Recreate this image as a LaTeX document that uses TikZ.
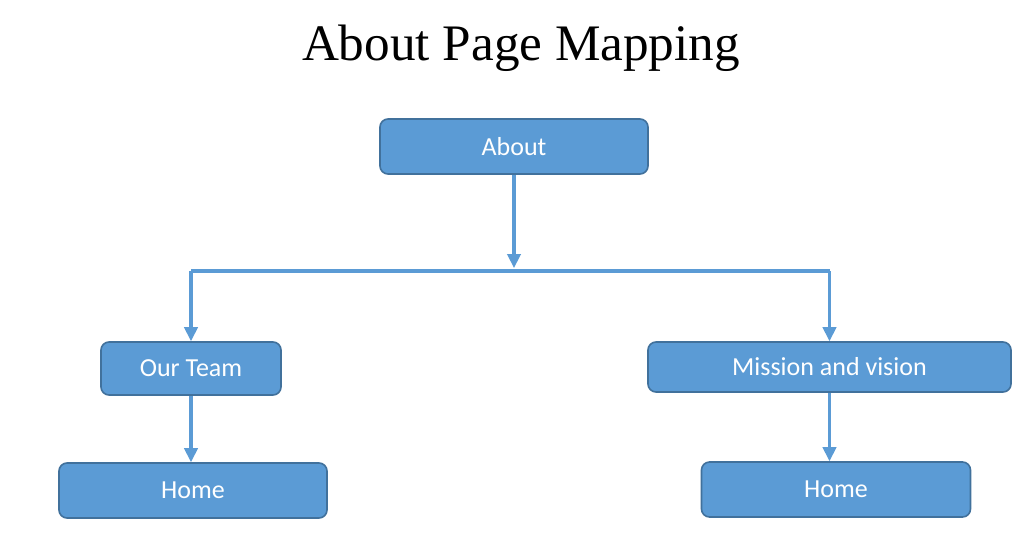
\documentclass[tikz,border=0pt]{standalone}
\usepackage{fontspec}
\setmainfont{Liberation Serif}
\setsansfont{Carlito}
\usetikzlibrary{arrows.meta,positioning,calc}
\definecolor{boxfill}{HTML}{5B9BD5}
\definecolor{boxline}{HTML}{41719C}
\definecolor{linkblue}{HTML}{5B9BD5}
\tikzset{every picture/.style={line width=0.75pt}}
\tikzset{
  page/.style={draw=boxline, fill=boxfill, line width=1.2pt, rounded corners=6pt,
    text=white, font=\sffamily\fontsize{19.5}{22}\selectfont, inner sep=0pt},
  link/.style={draw=linkblue, line width=2.3pt},
  arr/.style={link, -{Triangle[length=10.5pt,width=10pt]}}
}

\begin{document}
\begin{tikzpicture}[x=0.75pt,y=-0.75pt]
    \useasboundingbox (0,0) rectangle (1017,533);

    % 标题
    \node[anchor=base, font=\fontsize{38.4}{44}\selectfont] (title) at (521,60) {About Page Mapping};

    % 页面方框
    \node[page, minimum width=201pt, minimum height=41.25pt] (about) at (514,146.5) {About};
    \node[page, minimum width=135pt, minimum height=39.75pt] (team) at (191,368.5) {Our Team};
    \node[page, minimum width=201pt, minimum height=41.25pt] (homel) at (193,490.5) {Home};
    \node[page, minimum width=272.25pt, minimum height=37.5pt] (mission) at (829.5,367) {Mission and vision};
    \node[page, minimum width=201.75pt, minimum height=41.25pt] (homer) at (836,489.5) {Home};

    % 分支线
    \coordinate (split) at (about.south |- 0,268);
    \coordinate (lsplit) at (team.north |- 0,271);
    \coordinate (rsplit) at (mission.north |- 0,271);
    \draw[arr] (about.south) -- (split);
    \draw[link] (lsplit) -- (rsplit);
    \draw[arr] (lsplit) -- (team.north);
    \draw[arr] (rsplit) -- (mission.north);

    % 下一层
    \draw[arr] (team.south) -- (team.south |- homel.north);
    \draw[arr] (mission.south) -- (mission.south |- homer.north);
\end{tikzpicture}
\end{document}
